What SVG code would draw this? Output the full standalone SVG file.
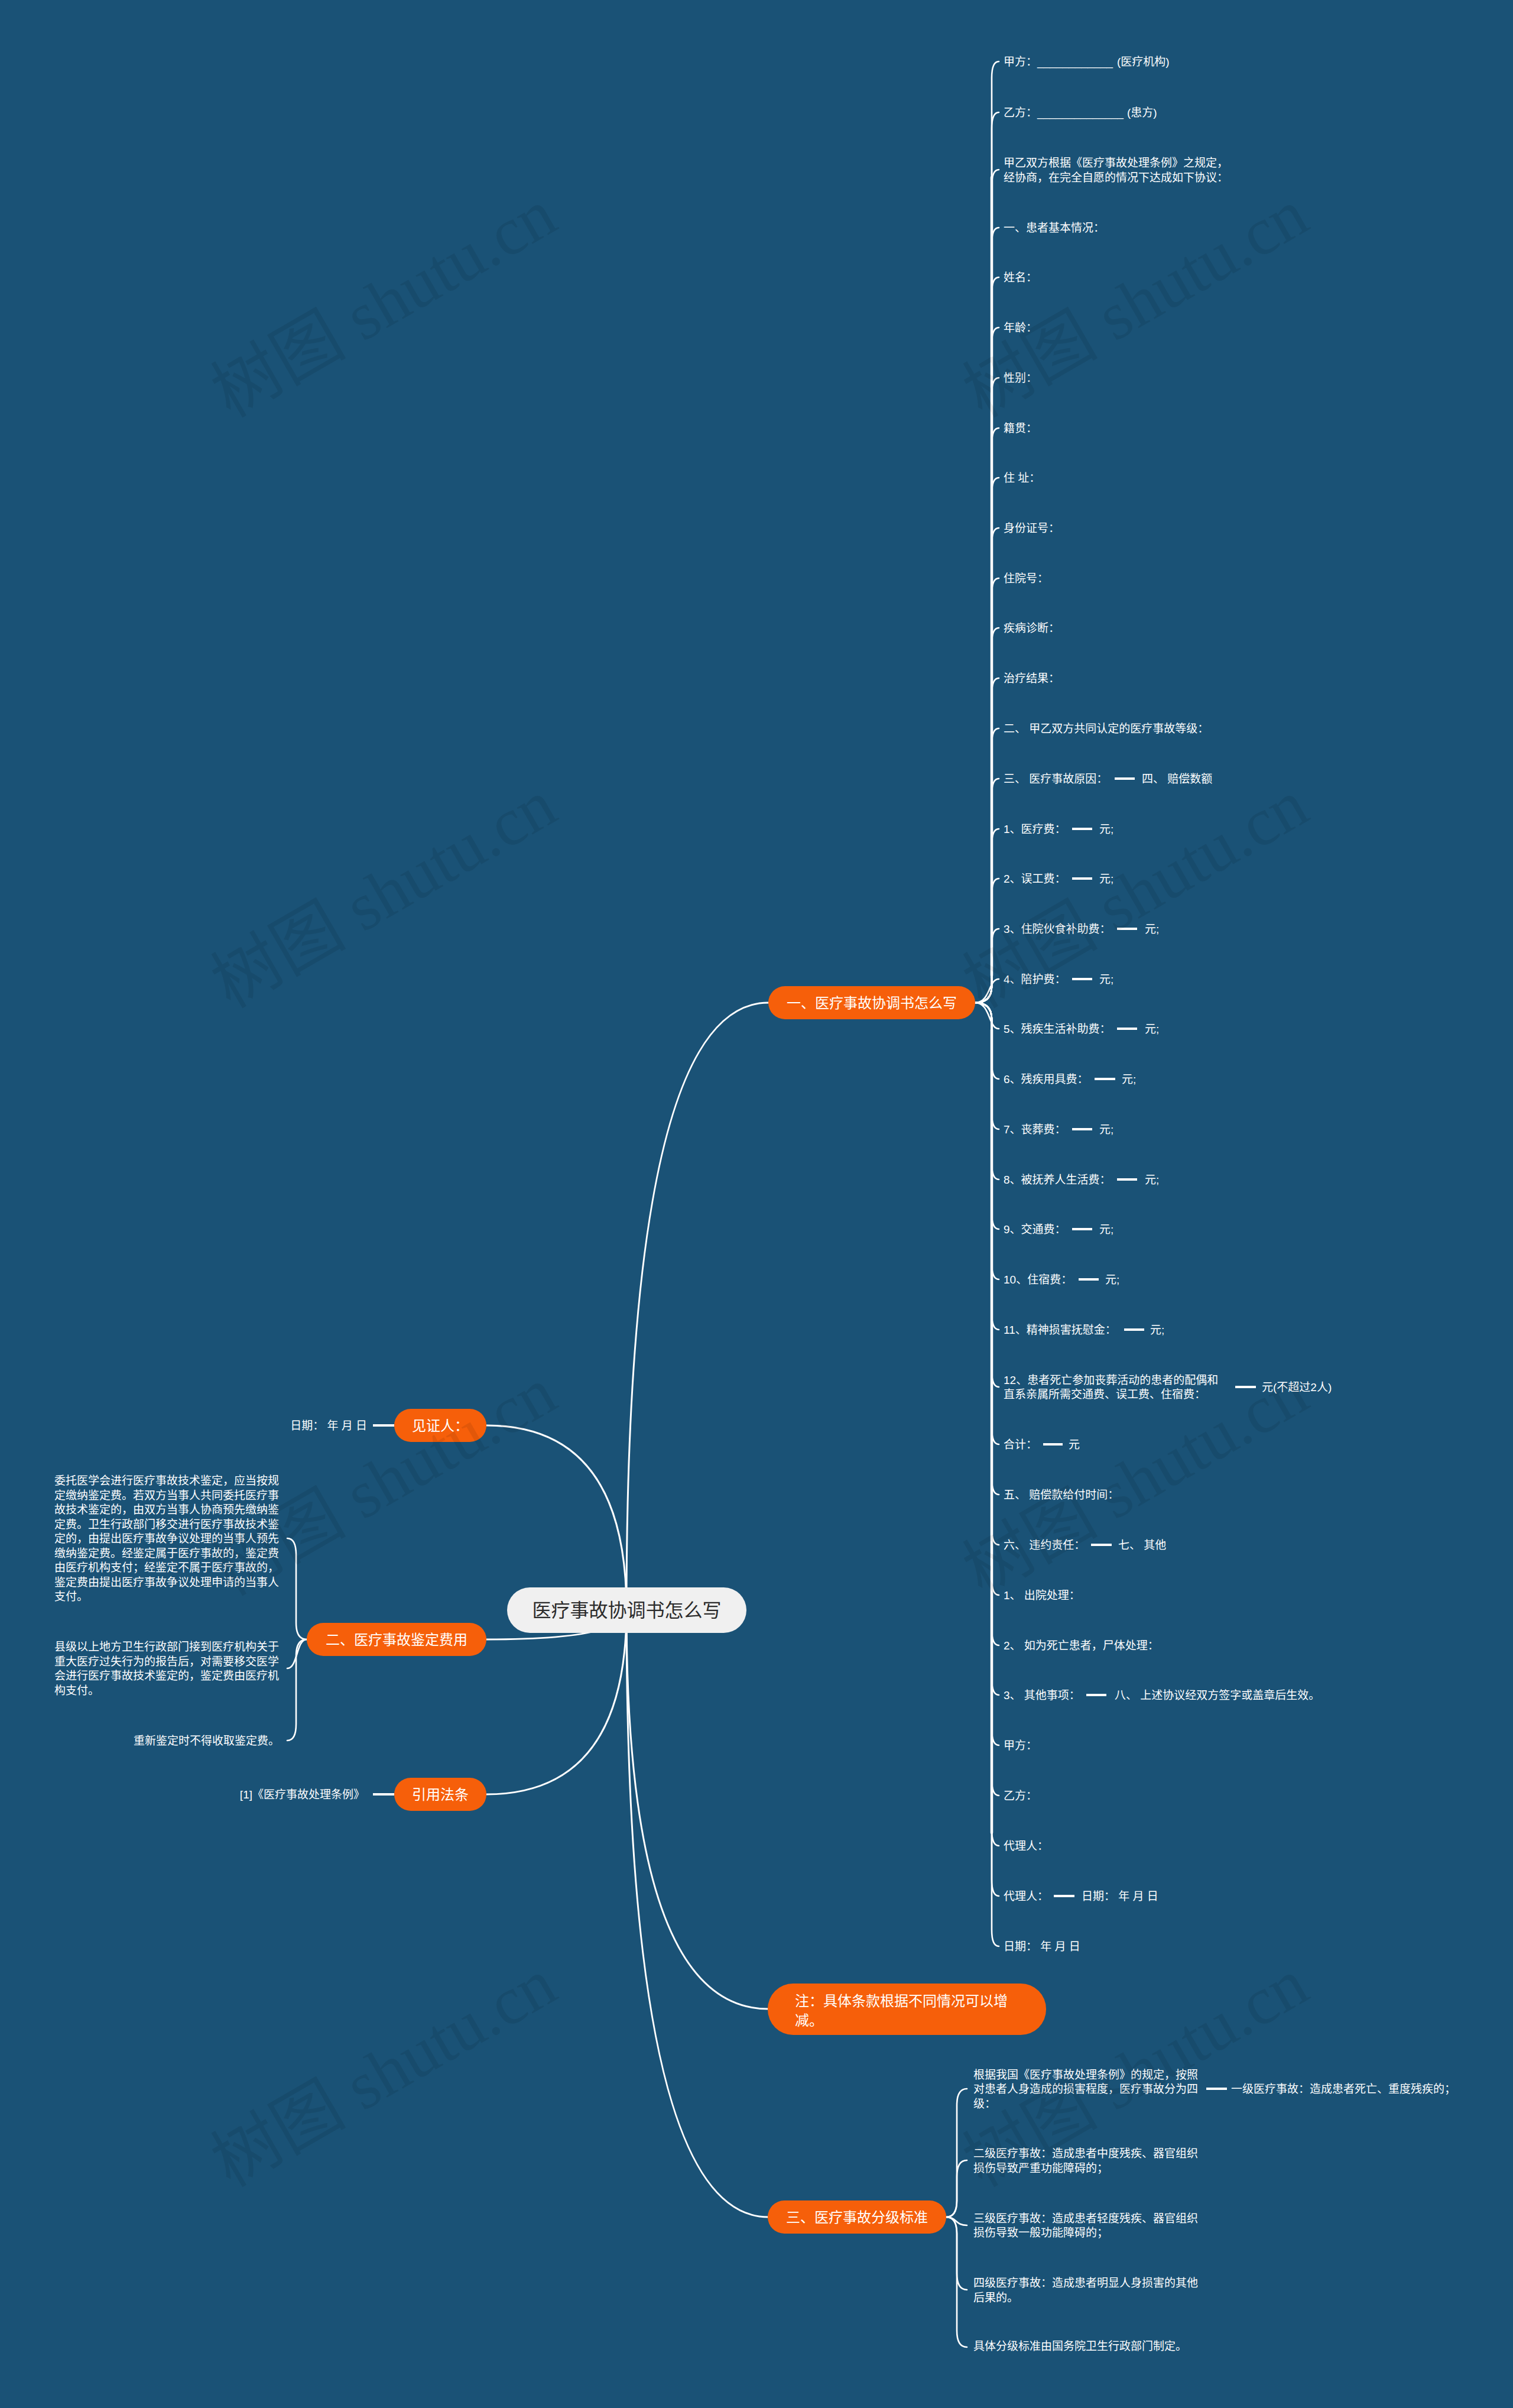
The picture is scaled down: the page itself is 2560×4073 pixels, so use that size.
<svg xmlns="http://www.w3.org/2000/svg" width="2560" height="4073" viewBox="0 0 2560 4073">
<style>
.t{font-family:'Liberation Sans','Noto Sans CJK SC',sans-serif;font-size:19px;fill:#ffffff}
.nt{font-family:'Liberation Sans','Noto Sans CJK SC',sans-serif;font-size:24px;fill:#ffffff}
.ct{font-family:'Liberation Sans','Noto Sans CJK SC',sans-serif;font-size:32px;fill:#2b2b2b}
.on{fill:#f65f0a}
.c{fill:none;stroke:#ffffff;stroke-width:3;stroke-linecap:round}
.s{fill:none;stroke:#ffffff;stroke-width:2.6;stroke-linecap:round}
.sp{fill:none;stroke:#ffffff;stroke-width:4.5;stroke-linecap:round}
.d{stroke:#ffffff;stroke-width:4}
.wm{font-family:'Liberation Serif','Noto Sans CJK SC',serif;font-size:115px;fill:#000000;fill-opacity:0.08}
</style>
<rect x="0" y="0" width="2560" height="4073" fill="#1a5276"/>

<g id="connectors">
<path class="c" d="M1060 2723Q1060 1696 1300 1696"/>
<path class="c" d="M1060 2723Q1060 2411 823 2411"/>
<path class="c" d="M1060 2723Q1060 2773 823 2773"/>
<path class="c" d="M1060 2723Q1060 3035 823 3035"/>
<path class="c" d="M1060 2723Q1060 3398 1300 3398"/>
<path class="c" d="M1060 2723Q1060 3750 1300 3750"/>
<!-- branch 1 spine (bundle) -->
<path class="sp" d="M1678 1650L1678 300"/>
<path class="sp" d="M1678 1742L1678 3100"/>
<path class="s" d="M1650 1696Q1678 1696 1678 1668L1678 132Q1678 104 1690 104"/>
<path class="s" d="M1650 1696Q1678 1696 1678 1668L1678 218Q1678 190 1690 190"/>
<path class="s" d="M1650 1696Q1678 1696 1678 1668L1678 315Q1678 287 1690 287"/>
<path class="s" d="M1650 1696Q1678 1696 1678 1668L1678 413Q1678 385 1690 385"/>
<path class="s" d="M1650 1696Q1678 1696 1678 1668L1678 497Q1678 469 1690 469"/>
<path class="s" d="M1650 1696Q1678 1696 1678 1668L1678 582Q1678 554 1690 554"/>
<path class="s" d="M1650 1696Q1678 1696 1678 1668L1678 667Q1678 639 1690 639"/>
<path class="s" d="M1650 1696Q1678 1696 1678 1668L1678 752Q1678 724 1690 724"/>
<path class="s" d="M1650 1696Q1678 1696 1678 1668L1678 836Q1678 808 1690 808"/>
<path class="s" d="M1650 1696Q1678 1696 1678 1668L1678 921Q1678 893 1690 893"/>
<path class="s" d="M1650 1696Q1678 1696 1678 1668L1678 1006Q1678 978 1690 978"/>
<path class="s" d="M1650 1696Q1678 1696 1678 1668L1678 1090Q1678 1062 1690 1062"/>
<path class="s" d="M1650 1696Q1678 1696 1678 1668L1678 1175Q1678 1147 1690 1147"/>
<path class="s" d="M1650 1696Q1678 1696 1678 1668L1678 1260Q1678 1232 1690 1232"/>
<path class="s" d="M1650 1696Q1678 1696 1678 1668L1678 1345Q1678 1317 1690 1317"/>
<path class="s" d="M1650 1696Q1678 1696 1678 1668L1678 1430Q1678 1402 1690 1402"/>
<path class="s" d="M1650 1696Q1678 1696 1678 1668L1678 1514Q1678 1486 1690 1486"/>
<path class="s" d="M1650 1696Q1678 1696 1678 1668L1678 1599Q1678 1571 1690 1571"/>
<path class="s" d="M1650 1696C1676 1696 1672 1656 1690 1656"/>
<path class="s" d="M1650 1696C1676 1696 1672 1740 1690 1740"/>
<path class="s" d="M1650 1696Q1678 1696 1678 1724L1678 1797Q1678 1825 1690 1825"/>
<path class="s" d="M1650 1696Q1678 1696 1678 1724L1678 1882Q1678 1910 1690 1910"/>
<path class="s" d="M1650 1696Q1678 1696 1678 1724L1678 1967Q1678 1995 1690 1995"/>
<path class="s" d="M1650 1696Q1678 1696 1678 1724L1678 2051Q1678 2079 1690 2079"/>
<path class="s" d="M1650 1696Q1678 1696 1678 1724L1678 2136Q1678 2164 1690 2164"/>
<path class="s" d="M1650 1696Q1678 1696 1678 1724L1678 2221Q1678 2249 1690 2249"/>
<path class="s" d="M1650 1696Q1678 1696 1678 1724L1678 2318Q1678 2346 1690 2346"/>
<path class="s" d="M1650 1696Q1678 1696 1678 1724L1678 2415Q1678 2443 1690 2443"/>
<path class="s" d="M1650 1696Q1678 1696 1678 1724L1678 2500Q1678 2528 1690 2528"/>
<path class="s" d="M1650 1696Q1678 1696 1678 1724L1678 2585Q1678 2613 1690 2613"/>
<path class="s" d="M1650 1696Q1678 1696 1678 1724L1678 2670Q1678 2698 1690 2698"/>
<path class="s" d="M1650 1696Q1678 1696 1678 1724L1678 2755Q1678 2783 1690 2783"/>
<path class="s" d="M1650 1696Q1678 1696 1678 1724L1678 2839Q1678 2867 1690 2867"/>
<path class="s" d="M1650 1696Q1678 1696 1678 1724L1678 2924Q1678 2952 1690 2952"/>
<path class="s" d="M1650 1696Q1678 1696 1678 1724L1678 3009Q1678 3037 1690 3037"/>
<path class="s" d="M1650 1696Q1678 1696 1678 1724L1678 3094Q1678 3122 1690 3122"/>
<path class="s" d="M1650 1696Q1678 1696 1678 1724L1678 3179Q1678 3207 1690 3207"/>
<path class="s" d="M1650 1696Q1678 1696 1678 1724L1678 3264Q1678 3292 1690 3292"/>
<!-- branch 二 -->
<path class="s" d="M519 2773Q501 2773 501 2745L501 2630Q501 2602 486 2602"/>
<path class="s" d="M519 2773C501 2773 504 2822 486 2822"/>
<path class="s" d="M519 2773Q501 2773 501 2801L501 2916Q501 2944 486 2944"/>
<!-- branch 三 -->
<path class="s" d="M1601 3750Q1619 3750 1619 3722L1619 3561Q1619 3533 1636 3533"/>
<path class="s" d="M1601 3750Q1619 3750 1619 3722L1619 3682Q1619 3654 1636 3654"/>
<path class="s" d="M1601 3750C1619 3750 1616 3764 1636 3764"/>
<path class="s" d="M1601 3750Q1619 3750 1619 3778L1619 3845Q1619 3873 1636 3873"/>
<path class="s" d="M1601 3750Q1619 3750 1619 3778L1619 3942Q1619 3970 1636 3970"/>
<!-- short lines -->
<line class="d" x1="631" y1="2411" x2="667" y2="2411"/>
<line class="d" x1="631" y1="3035" x2="667" y2="3035"/>
<line class="d" x1="1886" y1="1317" x2="1920" y2="1317"/>
<line class="d" x1="1814" y1="1402" x2="1848" y2="1402"/>
<line class="d" x1="1814" y1="1486" x2="1848" y2="1486"/>
<line class="d" x1="1890" y1="1571" x2="1924" y2="1571"/>
<line class="d" x1="1814" y1="1656" x2="1848" y2="1656"/>
<line class="d" x1="1890" y1="1740" x2="1924" y2="1740"/>
<line class="d" x1="1852" y1="1825" x2="1887" y2="1825"/>
<line class="d" x1="1814" y1="1910" x2="1848" y2="1910"/>
<line class="d" x1="1890" y1="1995" x2="1924" y2="1995"/>
<line class="d" x1="1814" y1="2079" x2="1848" y2="2079"/>
<line class="d" x1="1825" y1="2164" x2="1859" y2="2164"/>
<line class="d" x1="1902" y1="2249" x2="1936" y2="2249"/>
<line class="d" x1="2090" y1="2346" x2="2125" y2="2346"/>
<line class="d" x1="1765" y1="2443" x2="1798" y2="2443"/>
<line class="d" x1="1846" y1="2613" x2="1881" y2="2613"/>
<line class="d" x1="1838" y1="2867" x2="1872" y2="2867"/>
<line class="d" x1="1783" y1="3207" x2="1818" y2="3207"/>
<line class="d" x1="2041" y1="3533" x2="2076" y2="3533"/>
</g>

<g id="n-root">
<rect x="858" y="2685" width="405" height="77" rx="38.5" fill="#f0f0f0"/>
<text class="ct" x="1060.5" y="2735" text-anchor="middle">医疗事故协调书怎么写</text>
</g>
<g id="n-b1">
<rect class="on" x="1300" y="1668" width="350" height="56" rx="28"/>
<text class="nt" x="1475" y="1705" text-anchor="middle">一、医疗事故协调书怎么写</text>
</g>
<g id="n-witness">
<rect class="on" x="667" y="2383" width="156" height="56" rx="28"/>
<text class="nt" x="745" y="2420" text-anchor="middle">见证人：</text>
</g>
<g id="n-b2">
<rect class="on" x="519" y="2745" width="304" height="56" rx="28"/>
<text class="nt" x="671" y="2782" text-anchor="middle">二、医疗事故鉴定费用</text>
</g>
<g id="n-law">
<rect class="on" x="667" y="3007" width="156" height="56" rx="28"/>
<text class="nt" x="745" y="3044" text-anchor="middle">引用法条</text>
</g>
<g id="n-note">
<rect class="on" x="1299" y="3355" width="471" height="87" rx="43"/>
<text class="nt" x="1345" y="3393">注：具体条款根据不同情况可以增</text>
<text class="nt" x="1345" y="3426">减。</text>
</g>
<g id="n-b3">
<rect class="on" x="1299" y="3722" width="302" height="56" rx="28"/>
<text class="nt" x="1450" y="3759" text-anchor="middle">三、医疗事故分级标准</text>
</g>

<g id="leaves-b1">
<text class="t" x="1698" y="111">甲方：<tspan x="1755" textLength="128" lengthAdjust="spacingAndGlyphs">____________</tspan><tspan x="1890">(医疗机构)</tspan></text>
<text class="t" x="1698" y="197">乙方：<tspan x="1755" textLength="146" lengthAdjust="spacingAndGlyphs">______________</tspan><tspan x="1907">(患方)</tspan></text>
<text class="t" x="1698" y="281.5">甲乙双方根据《医疗事故处理条例》之规定，</text>
<text class="t" x="1698" y="306.5">经协商，在完全自愿的情况下达成如下协议：</text>
<text class="t" x="1698" y="392">一、患者基本情况：</text>
<text class="t" x="1698" y="476">姓名：</text>
<text class="t" x="1698" y="561">年龄：</text>
<text class="t" x="1698" y="646">性别：</text>
<text class="t" x="1698" y="731">籍贯：</text>
<text class="t" x="1698" y="815">住 址：</text>
<text class="t" x="1698" y="900">身份证号：</text>
<text class="t" x="1698" y="985">住院号：</text>
<text class="t" x="1698" y="1069">疾病诊断：</text>
<text class="t" x="1698" y="1154">治疗结果：</text>
<text class="t" x="1698" y="1239">二、 甲乙双方共同认定的医疗事故等级：</text>
<text class="t" x="1698" y="1324">三、 医疗事故原因：</text>
<text class="t" x="1932" y="1324">四、 赔偿数额</text>
<text class="t" x="1698" y="1409">1、医疗费：</text>
<text class="t" x="1860" y="1409">元;</text>
<text class="t" x="1698" y="1493">2、误工费：</text>
<text class="t" x="1860" y="1493">元;</text>
<text class="t" x="1698" y="1578">3、住院伙食补助费：</text>
<text class="t" x="1937" y="1578">元;</text>
<text class="t" x="1698" y="1663">4、陪护费：</text>
<text class="t" x="1860" y="1663">元;</text>
<text class="t" x="1698" y="1747">5、残疾生活补助费：</text>
<text class="t" x="1937" y="1747">元;</text>
<text class="t" x="1698" y="1832">6、残疾用具费：</text>
<text class="t" x="1898" y="1832">元;</text>
<text class="t" x="1698" y="1917">7、丧葬费：</text>
<text class="t" x="1860" y="1917">元;</text>
<text class="t" x="1698" y="2002">8、被抚养人生活费：</text>
<text class="t" x="1937" y="2002">元;</text>
<text class="t" x="1698" y="2086">9、交通费：</text>
<text class="t" x="1860" y="2086">元;</text>
<text class="t" x="1698" y="2171">10、住宿费：</text>
<text class="t" x="1870" y="2171">元;</text>
<text class="t" x="1698" y="2256">11、精神损害抚慰金：</text>
<text class="t" x="1946" y="2256">元;</text>
<text class="t" x="1698" y="2341">12、患者死亡参加丧葬活动的患者的配偶和</text>
<text class="t" x="1698" y="2365">直系亲属所需交通费、误工费、住宿费：</text>
<text class="t" x="2135" y="2353">元(不超过2人)</text>
<text class="t" x="1698" y="2450">合计：</text>
<text class="t" x="1808" y="2450">元</text>
<text class="t" x="1698" y="2535">五、 赔偿款给付时间：</text>
<text class="t" x="1698" y="2620">六、 违约责任：</text>
<text class="t" x="1892" y="2620">七、 其他</text>
<text class="t" x="1698" y="2705">1、 出院处理：</text>
<text class="t" x="1698" y="2790">2、 如为死亡患者，尸体处理：</text>
<text class="t" x="1698" y="2874">3、 其他事项：</text>
<text class="t" x="1886" y="2874">八、 上述协议经双方签字或盖章后生效。</text>
<text class="t" x="1698" y="2959">甲方：</text>
<text class="t" x="1698" y="3044">乙方：</text>
<text class="t" x="1698" y="3129">代理人：</text>
<text class="t" x="1698" y="3214">代理人：</text>
<text class="t" x="1830" y="3214">日期： 年 月 日</text>
<text class="t" x="1698" y="3299">日期： 年 月 日</text>
</g>

<g id="leaves-left">
<text class="t" x="621" y="2418" text-anchor="end">日期： 年 月 日</text>
<text class="t" x="92" y="2511">委托医学会进行医疗事故技术鉴定，应当按规</text>
<text class="t" x="92" y="2535.5">定缴纳鉴定费。若双方当事人共同委托医疗事</text>
<text class="t" x="92" y="2560">故技术鉴定的，由双方当事人协商预先缴纳鉴</text>
<text class="t" x="92" y="2584.5">定费。卫生行政部门移交进行医疗事故技术鉴</text>
<text class="t" x="92" y="2609">定的，由提出医疗事故争议处理的当事人预先</text>
<text class="t" x="92" y="2633.5">缴纳鉴定费。经鉴定属于医疗事故的，鉴定费</text>
<text class="t" x="92" y="2658">由医疗机构支付；经鉴定不属于医疗事故的，</text>
<text class="t" x="92" y="2682.5">鉴定费由提出医疗事故争议处理申请的当事人</text>
<text class="t" x="92" y="2707">支付。</text>
<text class="t" x="92" y="2792">县级以上地方卫生行政部门接到医疗机构关于</text>
<text class="t" x="92" y="2816.5">重大医疗过失行为的报告后，对需要移交医学</text>
<text class="t" x="92" y="2841">会进行医疗事故技术鉴定的，鉴定费由医疗机</text>
<text class="t" x="92" y="2865.5">构支付。</text>
<text class="t" x="473" y="2951" text-anchor="end">重新鉴定时不得收取鉴定费。</text>
<text class="t" x="617" y="3042" text-anchor="end">[1]《医疗事故处理条例》</text>
</g>

<g id="leaves-b3">
<text class="t" x="1647" y="3516">根据我国《医疗事故处理条例》的规定，按照</text>
<text class="t" x="1647" y="3540">对患者人身造成的损害程度，医疗事故分为四</text>
<text class="t" x="1647" y="3565">级：</text>
<text class="t" x="2083" y="3540">一级医疗事故：造成患者死亡、重度残疾的；</text>
<text class="t" x="1647" y="3649">二级医疗事故：造成患者中度残疾、器官组织</text>
<text class="t" x="1647" y="3674">损伤导致严重功能障碍的；</text>
<text class="t" x="1647" y="3759">三级医疗事故：造成患者轻度残疾、器官组织</text>
<text class="t" x="1647" y="3783">损伤导致一般功能障碍的；</text>
<text class="t" x="1647" y="3868">四级医疗事故：造成患者明显人身损害的其他</text>
<text class="t" x="1647" y="3893">后果的。</text>
<text class="t" x="1647" y="3975">具体分级标准由国务院卫生行政部门制定。</text>
</g>

<g id="watermarks">
<text class="wm" x="649" y="552" text-anchor="middle" transform="rotate(-30 649 512)">树图 shutu.cn</text>
<text class="wm" x="1921" y="552" text-anchor="middle" transform="rotate(-30 1921 512)">树图 shutu.cn</text>
<text class="wm" x="649" y="1551" text-anchor="middle" transform="rotate(-30 649 1511)">树图 shutu.cn</text>
<text class="wm" x="1921" y="1551" text-anchor="middle" transform="rotate(-30 1921 1511)">树图 shutu.cn</text>
<text class="wm" x="649" y="2545" text-anchor="middle" transform="rotate(-30 649 2505)">树图 shutu.cn</text>
<text class="wm" x="1921" y="2545" text-anchor="middle" transform="rotate(-30 1921 2505)">树图 shutu.cn</text>
<text class="wm" x="649" y="3545" text-anchor="middle" transform="rotate(-30 649 3505)">树图 shutu.cn</text>
<text class="wm" x="1921" y="3545" text-anchor="middle" transform="rotate(-30 1921 3505)">树图 shutu.cn</text>
</g>
</svg>
